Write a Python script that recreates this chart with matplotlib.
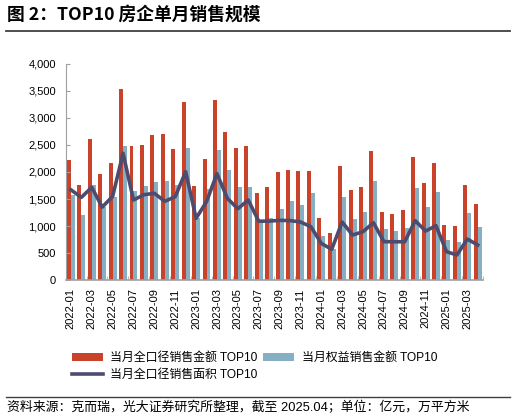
import numpy as np
import matplotlib
matplotlib.use("Agg")
import matplotlib.pyplot as plt

plt.rcParams['font.family'] = ['Liberation Sans', 'Noto Sans CJK SC', 'DejaVu Sans']
plt.rcParams['axes.unicode_minus'] = False

# 月份
months = []
for yr in (2022, 2023, 2024, 2025):
    for mo in range(1, 13):
        months.append("{}-{:02d}".format(yr, mo))
months = months[:40]

# 当月全口径销售金额 TOP10（亿元）
total_amt = [2220, 1760, 2620, 1965, 2175, 3530, 2485, 2500, 2690, 2705, 2430, 3290,
             1745, 2245, 3330, 2745, 2445, 2485, 1620, 1715, 1995, 2035, 2012, 2012,
             1155, 870, 2105, 1660, 1730, 2390, 1260, 1230, 1295, 2280, 1795, 2160,
             1020, 1000, 1760, 1405]

# 当月权益销售金额 TOP10（亿元）
equity_amt = [1565, 1205, 1760, 1345, 1535, 2480, 1655, 1745, 1815, 1835, 1760, 2445,
              1150, 1680, 2410, 2035, 1725, 1725, 1110, 1140, 1315, 1463, 1389, 1605,
              815, 575, 1537, 1136, 1259, 1833, 944, 907, 963, 1710, 1352, 1623,
              741, 704, 1241, 981]

# 当月全口径销售面积 TOP10（万平方米）
total_area = [1670, 1530, 1716, 1350, 1548, 2346, 1481, 1580, 1605, 1457, 1543, 2006,
              1142, 1451, 1970, 1512, 1320, 1481, 1090, 1090, 1105, 1100, 1075, 988,
              679, 568, 1074, 833, 895, 1062, 710, 708, 708, 1099, 907, 1006,
              525, 463, 759, 648]

red = '#C9432A'
blue = '#86AFC3'
navy = '#4D4B6E'

fig = plt.figure(figsize=(5.16, 4.19), dpi=100)
ax = fig.add_axes([0.1273, 0.3317, 0.8087, 0.5156])

x = np.arange(len(months))
w = 0.38
b1 = ax.bar(x - 0.19, total_amt, width=w, color=red, label="当月全口径销售金额 TOP10")
b2 = ax.bar(x + 0.19, equity_amt, width=w, color=blue, label="当月权益销售金额 TOP10")
l1, = ax.plot(x, total_area, color=navy, linewidth=2.6, label="当月全口径销售面积 TOP10")

ax.set_xlim(-0.5, len(months) - 0.5)
ax.set_ylim(0, 4000)
ax.set_yticks(np.arange(0, 4001, 500))
ax.set_yticklabels(["{:,}".format(v) for v in range(0, 4001, 500)])

ax.set_xticks(x[::2])
ax.set_xticklabels(months[::2], rotation=90)
ax.set_xticks(np.arange(-0.5, len(months), 2), minor=True)
ax.tick_params(axis='x', which='major', length=0, pad=6, labelsize=8)
ax.tick_params(axis='x', which='minor', direction='in', length=3, color='#B0B0B0')
ax.tick_params(axis='y', direction='in', length=3, color='#A0A0A0', pad=7, labelsize=8)

for s in ('top', 'right'):
    ax.spines[s].set_visible(False)
ax.spines['left'].set_color('#A0A0A0')
ax.spines['bottom'].set_color('#A0A0A0')
ax.spines['bottom'].set_linewidth(1.2)

fig.legend(handles=[b1, l1, b2], loc='upper left', bbox_to_anchor=(0.1395, 0.160),
           ncol=2, frameon=False, fontsize=8.6, borderpad=0, borderaxespad=0,
           handlelength=2.6, handletextpad=0.6, columnspacing=0.5, labelspacing=0.42)

# 标题与来源
fig.text(0.013, 0.965, "图 2：TOP10 房企单月销售规模", fontsize=12.8, fontweight='bold',
         family=['Noto Sans CJK SC', 'DejaVu Sans'], va='center', ha='left')
fig.add_artist(plt.Line2D([0.012, 0.988], [0.926, 0.926], color='#404040', linewidth=1.3))
fig.add_artist(plt.Line2D([0.012, 0.988], [0.052, 0.052], color='#404040', linewidth=1.0))
fig.text(0.013, 0.028, "资料来源：克而瑞，光大证券研究所整理，截至 2025.04；单位：亿元，万平方米",
         fontsize=9.3, va='center', ha='left')

fig.savefig("out.png", dpi=100)
